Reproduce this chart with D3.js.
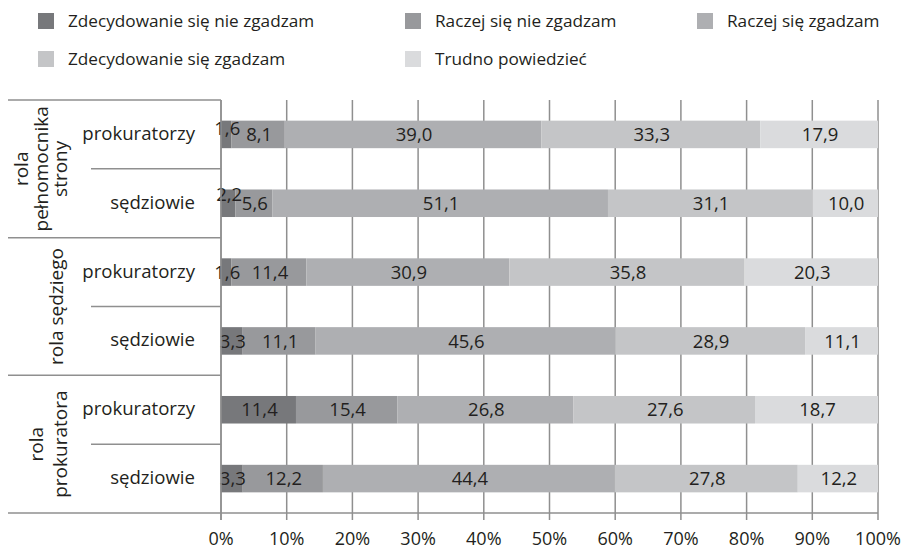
<!DOCTYPE html>
<html>
<head>
<meta charset="utf-8">
<script src="https://d3js.org/d3.v7.min.js"></script>
<style>
  body { margin: 0; background: #fff; }
  text { font-family: "Open Sans", "Noto Sans", sans-serif; fill: #231f20; }
</style>
</head>
<body>
<svg id="chart"></svg>
<script>
  // categories and values (top row first)
  var answers = ["Zdecydowanie się nie zgadzam", "Raczej się nie zgadzam", "Raczej się zgadzam",
                 "Zdecydowanie się zgadzam", "Trudno powiedzieć"];
  var groups = [["rola", "pełnomocnika", "strony"], ["rola sędziego"], ["rola", "prokuratora"]];
  var respondents = ["prokuratorzy", "sędziowie"];

  var pelnomocnikProk = [1.6, 8.1, 39.0, 33.3, 17.9];
  var pelnomocnikSedz = [2.2, 5.6, 51.1, 31.1, 10.0];
  var sedziegoProk = [1.6, 11.4, 30.9, 35.8, 20.3];
  var sedziegoSedz = [3.3, 11.1, 45.6, 28.9, 11.1];
  var prokuratoraProk = [11.4, 15.4, 26.8, 27.6, 18.7];
  var prokuratoraSedz = [3.3, 12.2, 44.4, 27.8, 12.2];

  var ticks = [0, 0.1, 0.2, 0.3, 0.4, 0.5, 0.6, 0.7, 0.8, 0.9, 1];

  var colors = ["#77787b", "#98999c", "#aeafb2", "#c4c5c7", "#dadbdd"];

  var seriesRows = [pelnomocnikProk, pelnomocnikSedz, sedziegoProk, sedziegoSedz, prokuratoraProk, prokuratoraSedz];

  var rows = seriesRows.map(function(vals, i) {
    var r = { id: "r" + i, group: Math.floor(i / 2), who: respondents[i % 2] };
    answers.forEach(function(a, j) { r[a] = vals[j]; });
    return r;
  });

  var width = 903, height = 549;
  var svg = d3.select("#chart").attr("width", width).attr("height", height);

  var x = d3.scaleLinear().domain([0, 1]).range([221, 878]);
  var y = d3.scaleBand().domain(rows.map(function(d) { return d.id; }))
    .range([100, 513]).paddingInner(0.6).paddingOuter(0.3);

  var stack = d3.stack().keys(answers).offset(d3.stackOffsetExpand);
  var stacked = stack(rows);

  var lineColor = "#8f8f8f";
  var gap = (y.step() - y.bandwidth()) / 2;

  // gridlines + ticks
  svg.append("g").selectAll("line")
    .data(ticks)
    .enter()
    .append("line")
    .attr("x1", function(d) { return x(d); })
    .attr("x2", function(d) { return x(d); })
    .attr("y1", 100)
    .attr("y2", 520)
    .attr("stroke", lineColor)
    .attr("stroke-width", 1.5);

  // bars
  svg.append("g").selectAll("g")
    .data(stacked)
    .enter()
    .append("g")
    .attr("fill", function(d, i) { return colors[i]; })
    .selectAll("rect")
    .data(function(d) { return d; })
    .enter()
    .append("rect")
    .attr("x", function(d) { return x(d[0]); })
    .attr("width", function(d) { return x(d[1]) - x(d[0]); })
    .attr("y", function(d) { return y(d.data.id); })
    .attr("height", y.bandwidth());

  // value labels, drawn above all bars
  // small labels that Excel pushed upward
  var nudge = { "r0-0": -6, "r1-0": -9 };
  var labels = [];
  stacked.forEach(function(s) {
    s.forEach(function(p) { labels.push({ p: p, key: s.key, ki: s.index }); });
  });

  svg.append("g").selectAll("text")
    .data(labels)
    .enter()
    .append("text")
    .attr("x", function(d) { return (x(d.p[0]) + x(d.p[1])) / 2 + 1; })
    .attr("y", function(d) {
      return y(d.p.data.id) + y.bandwidth() / 2 + (nudge[d.p.data.id + "-" + d.ki] || 0);
    })
    .attr("text-anchor", "middle")
    .attr("dy", "0.36em")
    .style("font-size", "18.5px")
    .text(function(d) { return d3.format(".1f")(d.p.data[d.key]).replace(".", ","); });

  // left frame: axis line, group separators
  var frame = svg.append("g").attr("stroke", lineColor).attr("stroke-width", 1.5);
  frame.append("line").attr("x1", 221).attr("x2", 221).attr("y1", 100).attr("y2", 520);
  frame.append("line").attr("x1", 8).attr("x2", 878).attr("y1", 513).attr("y2", 513);
  [0, 1, 2].forEach(function(g) {
    var top = g > 0 ? y(rows[g * 2].id) - gap : 100;
    frame.append("line").attr("x1", 8).attr("x2", 221).attr("y1", top).attr("y2", top);
    var mid = y(rows[g * 2 + 1].id) - gap;
    frame.append("line").attr("x1", 91).attr("x2", 221).attr("y1", mid).attr("y2", mid);
  });

  // respondent labels
  svg.append("g").selectAll("text")
    .data(rows)
    .enter()
    .append("text")
    .attr("x", 195)
    .attr("y", function(d) { return y(d.id) + y.bandwidth() / 2; })
    .attr("dy", "0.3em")
    .attr("text-anchor", "end")
    .style("font-size", "18.6px")
    .text(function(d) { return d.who; });

  // group labels (rotated)
  var groupX = [42, 57, 49];
  var groupLead = [19.5, 0, 24];
  groups.forEach(function(lines, g) {
    var cy = (y(rows[g * 2].id) + y(rows[g * 2 + 1].id) + y.bandwidth()) / 2;
    var t = svg.append("text")
      .attr("transform", "translate(" + groupX[g] + "," + cy + ") rotate(-90)")
      .attr("text-anchor", "middle")
      .style("font-size", "19px");
    lines.forEach(function(l, k) {
      t.append("tspan")
        .attr("x", 0)
        .attr("y", (k - (lines.length - 1) / 2) * groupLead[g])
        .attr("dy", "0.3em")
        .text(l);
    });
  });

  // tick labels
  svg.append("g").selectAll("text")
    .data(ticks)
    .enter()
    .append("text")
    .attr("x", function(d) { return x(d); })
    .attr("y", 545)
    .attr("text-anchor", "middle")
    .style("font-size", "18px")
    .text(function(d) { return d3.format(".0%")(d); });

  // legend
  var legendPos = [[38, 21], [405, 21], [697, 21], [38, 59], [405, 59]];
  var legend = svg.append("g").selectAll("g")
    .data(answers)
    .enter()
    .append("g")
    .attr("transform", function(d, i) { return "translate(" + legendPos[i][0] + "," + legendPos[i][1] + ")"; });
  legend.append("rect")
    .attr("x", 0).attr("y", -8).attr("width", 16).attr("height", 16)
    .attr("fill", function(d, i) { return colors[i]; });
  legend.append("text")
    .attr("x", 30)
    .attr("dy", "0.36em")
    .style("font-size", "17.2px")
    .text(function(d) { return d; });
</script>
</body>
</html>
